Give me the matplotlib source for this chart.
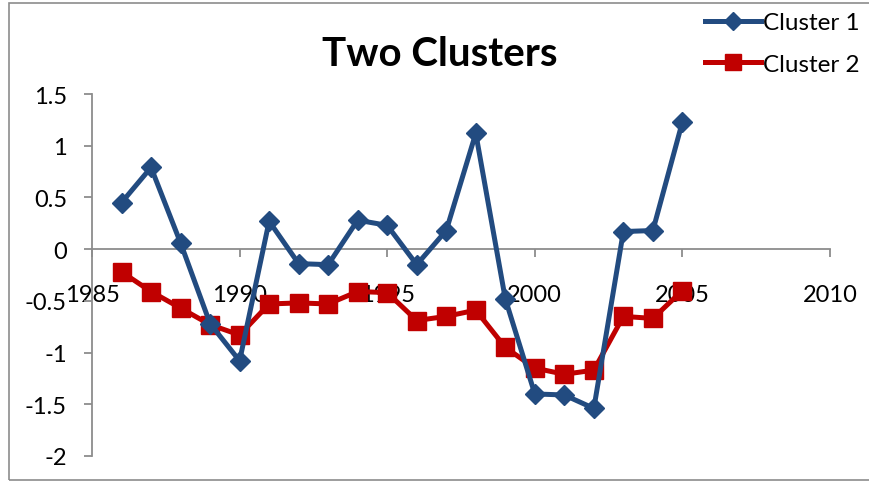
import matplotlib
matplotlib.use('Agg')
import matplotlib.pyplot as plt
from matplotlib.patches import Rectangle

years = list(range(1986, 2006))
cluster1 = [0.45, 0.79, 0.06, -0.72, -1.08, 0.27, -0.14, -0.15, 0.28, 0.23,
            -0.15, 0.18, 1.12, -0.48, -1.40, -1.41, -1.54, 0.17, 0.18, 1.23]
cluster2 = [-0.22, -0.41, -0.57, -0.73, -0.83, -0.53, -0.52, -0.53, -0.41, -0.42,
            -0.69, -0.65, -0.59, -0.95, -1.15, -1.21, -1.17, -0.65, -0.67, -0.40]
x_ticks = [1985, 1990, 1995, 2000, 2005, 2010]
y_ticks = [-2, -1.5, -1, -0.5, 0, 0.5, 1, 1.5]

plt.rcParams['font.family'] = ['Lato', 'DejaVu Sans']

fig = plt.figure(figsize=(8.69, 4.85), dpi=100)
W, H = 869, 485
ax = fig.add_axes([92 / W, (H - 457) / H, (830 - 92) / W, (457 - 95) / H])

# chart border
fig.patches.append(Rectangle((9 / W, 4 / H), 1.0, (481 - 4 - 2) / H + 0.004,
                             transform=fig.transFigure, fill=False,
                             edgecolor='#8c8c8c', linewidth=1.2))

blue = '#224B80'
red = '#C00000'
ax.plot(years, cluster1, color=blue, lw=3.6, marker='D', markersize=10.5,
        label='Cluster 1', zorder=3)
ax.plot(years, cluster2, color=red, lw=3.6, marker='s', markersize=12.5,
        label='Cluster 2', zorder=2)

ax.set_xlim(1985, 2010)
ax.set_ylim(-2, 1.5)
ax.set_xticks(x_ticks)
ax.set_yticks(y_ticks)
ax.set_yticklabels([f'{v:g}' for v in y_ticks])

for s in ['top', 'right']:
    ax.spines[s].set_visible(False)
ax.spines['bottom'].set_position(('data', 0))
ax.spines['bottom'].set_color('#8c8c8c')
ax.spines['left'].set_color('#8c8c8c')
ax.spines['bottom'].set_linewidth(1.3)
ax.spines['left'].set_linewidth(1.3)
ax.tick_params(axis='y', direction='out', length=6, width=1.3, color='#8c8c8c',
               labelsize=17, pad=12)
ax.tick_params(axis='x', direction='out', length=6, width=1.3, color='#8c8c8c',
               labelsize=17, pad=19)

fig.text(440 / W, 1 - 54 / H, 'Two Clusters', ha='center', va='center',
         fontsize=29, fontweight='bold')

ax.legend(loc='upper left', bbox_to_anchor=(705 / W, 1 - 13 / H),
          bbox_transform=fig.transFigure, frameon=False, fontsize=17.5,
          handlelength=2.3, handletextpad=0.1, labelspacing=0.85,
          borderaxespad=0, borderpad=0, markerscale=0.9)

fig.savefig('out.png', dpi=100)
